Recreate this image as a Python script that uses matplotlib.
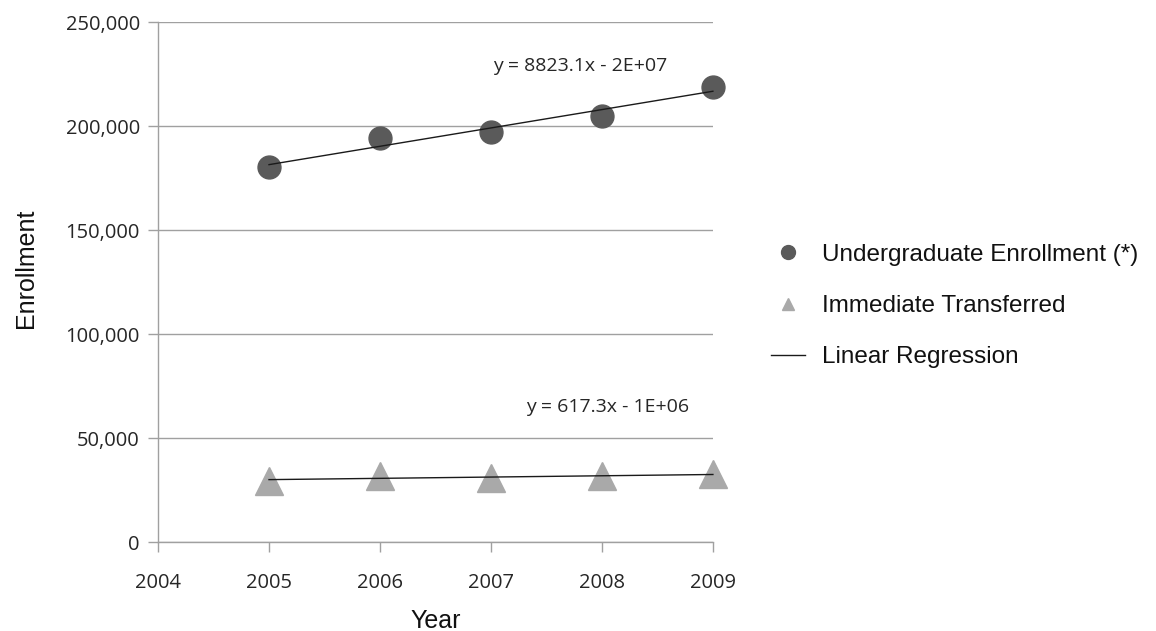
import numpy as np
import matplotlib
matplotlib.use('Agg')
import matplotlib.pyplot as plt
from matplotlib.lines import Line2D
from matplotlib.ticker import FuncFormatter

# Enrollment by year
YEARS = [2005, 2006, 2007, 2008, 2009]
UNDERGRAD = [180300, 194200, 197300, 204800, 218900]
TRANSFERRED = [29300, 31700, 30800, 31700, 32700]

# Trend line slopes as reported in the equations
UG_SLOPE, UG_EQ = 8823.1, 'y = 8823.1x - 2E+07'
TR_SLOPE, TR_EQ = 617.3, 'y = 617.3x - 1E+06'

LEGEND_LABELS = ['Undergraduate Enrollment (*)', 'Immediate Transferred', 'Linear Regression']

DARK = '#5a5a5a'
LIGHT = '#a9a9a9'
GRID = '#a0a0a0'
TXT = '#262626'


def trend(years, values, slope):
    """Line with the given slope through the mean of the points."""
    x = np.array(years, dtype=float)
    b = np.mean(values) - slope * x.mean()
    return x, slope * x + b


fig = plt.figure(figsize=(11.56, 6.31), dpi=100)
ax = fig.add_axes([0.1367, 0.141, 0.48, 0.824])

ax.plot(YEARS, UNDERGRAD, 'o', color=DARK, markersize=16.5, zorder=3, clip_on=False)
ax.plot(YEARS, TRANSFERRED, '^', color=LIGHT, markersize=19.5, zorder=3, clip_on=False)

for vals, slope in [(UNDERGRAD, UG_SLOPE), (TRANSFERRED, TR_SLOPE)]:
    tx, ty = trend(YEARS, vals, slope)
    ax.plot([tx[0], tx[-1]], [ty[0], ty[-1]], color='#1a1a1a', lw=1.0, zorder=4,
            clip_on=False)

ax.text(2007.8, 229000, UG_EQ, fontsize=14, family='Open Sans', color=TXT,
        ha='center', va='center')
ax.text(2008.05, 65000, TR_EQ, fontsize=14, family='Open Sans', color=TXT,
        ha='center', va='center')

ax.set_xlim(2004, 2009)
ax.set_ylim(0, 250000)
ax.set_xticks(range(2004, 2010))
ax.set_yticks(range(0, 250001, 50000))
ax.yaxis.set_major_formatter(FuncFormatter(lambda v, p: f'{int(v):,}'))
ax.grid(axis='y', color=GRID, lw=1.0)
ax.set_axisbelow(True)
for s in ['top', 'right']:
    ax.spines[s].set_visible(False)
for s in ['left', 'bottom']:
    ax.spines[s].set_color(GRID)
    ax.spines[s].set_linewidth(1.0)
ax.tick_params(axis='both', color=GRID, length=7, width=1.0, labelsize=14.5,
               labelcolor=TXT)
ax.tick_params(axis='x', pad=15)
ax.tick_params(axis='y', pad=6)
for lab in ax.get_xticklabels() + ax.get_yticklabels():
    lab.set_family('Open Sans')

ax.set_xlabel('Year', fontsize=18, family='Liberation Sans', labelpad=12, color='#111111')
ax.set_ylabel('Enrollment', fontsize=18, family='Liberation Sans', color='#111111')
ax.yaxis.set_label_coords(-0.217, 0.527)

handles = [
    Line2D([], [], ls='none', marker='o', color=DARK, markersize=10),
    Line2D([], [], ls='none', marker='^', color=LIGHT, markersize=9),
    Line2D([], [], color='#1a1a1a', lw=1.0),
]
fig.legend(handles, LEGEND_LABELS, loc='center left', bbox_to_anchor=(0.648, 0.515),
           frameon=False, prop={'family': 'Liberation Sans', 'size': 17.5},
           handlelength=1.4, handletextpad=0.7, labelspacing=1.2,
           labelcolor='#111111')

fig.savefig('out.png', dpi=100, facecolor='white')
